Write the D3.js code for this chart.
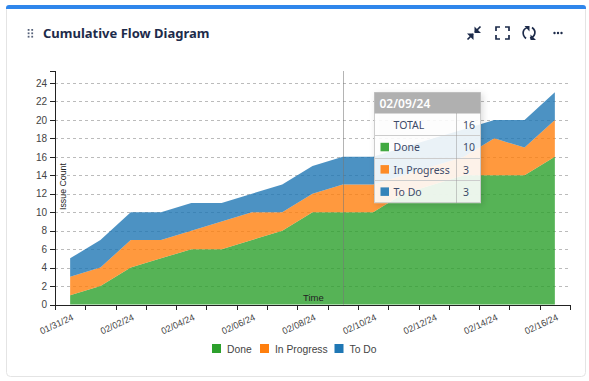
<!DOCTYPE html>
<html>
<head>
<meta charset="utf-8">
<script src="https://cdn.jsdelivr.net/npm/d3@7"></script>
<style>
    html, body { margin: 0; padding: 0; background: #fff; }
    svg { display: block; }
    .axis text { font: 10px "Liberation Sans", Arial, sans-serif; fill: #444; }
    .axis path, .axis line { stroke: #222; shape-rendering: crispEdges; }
    .ui { font-family: "Noto Sans", sans-serif; }
</style>
</head>
<body>
<svg id="chart" width="589" height="381"></svg>
<script>
// values
const dates = ["01/31/24", "02/01/24", "02/02/24", "02/03/24", "02/04/24", "02/05/24", "02/06/24", "02/07/24", "02/08/24",
    "02/09/24", "02/10/24", "02/11/24", "02/12/24", "02/13/24", "02/14/24", "02/15/24", "02/16/24"];
const done = [1, 2, 4, 5, 6, 6, 7, 8, 10, 10, 10, 12, 13, 14, 14, 14, 16];
const inProgress = [2, 2, 3, 2, 2, 3, 3, 2, 2, 3, 3, 2, 2, 2, 4, 3, 4];
const toDo = [2, 3, 3, 3, 3, 2, 2, 3, 3, 3, 3, 3, 3, 3, 2, 3, 3];
const seriesNames = ["Done", "In Progress", "To Do"];
const seriesColors = ["#2ca02c", "#ff7f0e", "#1f77b4"];
const yTicks = [0, 2, 4, 6, 8, 10, 12, 14, 16, 18, 20, 22, 24];
const hoverIndex = 9;

const svg = d3.select("#chart");
const margin = { top: 71, right: 19, bottom: 76.5, left: 55 };
const width = 589 - margin.right;
const height = 381 - margin.bottom;

// card
svg.append("rect").attr("x", 6.5).attr("y", 5.5).attr("width", 579).attr("height", 371).attr("rx", 4)
    .attr("fill", "#fff").attr("stroke", "#e4e4e4");
svg.append("path").attr("d", "M6,9V8Q6,5 9,5H583Q586,5 586,8V9Z").attr("fill", "#2f86eb");

// header
const titleColor = "#1d2b4a";
svg.append("text").attr("class", "ui").attr("x", 43).attr("y", 38)
    .attr("font-size", 13).attr("font-weight", 700).attr("fill", titleColor)
    .text("Cumulative Flow Diagram");

const handle = svg.append("g").attr("fill", "#56627a");
d3.range(6).forEach(i => {
    handle.append("rect").attr("x", 27.7 + (i % 2) * 3.6).attr("y", 29 + Math.floor(i / 2) * 3.4)
        .attr("width", 1.8).attr("height", 1.8);
});

const icons = svg.append("g").attr("fill", "none").attr("stroke", titleColor).attr("stroke-width", 1.7);
// collapse arrows
icons.append("path").attr("d", "M467.5,39.5L473,34M480.5,26.5L475,32");
icons.append("path").attr("fill", titleColor).attr("stroke", "none")
    .attr("d", "M467,33.5H473.5V40ZM481,33H474.5V26.5Z");
// fullscreen corners
icons.append("path").attr("d", "M496,31V27H500M505,27H509V31M509,35V39H505M500,39H496V35");
// refresh
icons.append("path").attr("d", "M526,38.5C521,34 523,28 528.5,27.5M532,27.5C537,31 535,37 530,38");
icons.append("path").attr("fill", titleColor).attr("stroke", "none")
    .attr("d", "M524.5,26H529.5V31.5ZM536,40H530.5V34.5Z");
// more
[554.5, 558, 561.5].forEach(cx => {
    svg.append("circle").attr("cx", cx).attr("cy", 33).attr("r", 1.2).attr("fill", titleColor);
});

// scales, ticks sit on band edges and points in the band middle
const x = d3.scaleLinear().domain([0, dates.length]).range([margin.left, width]);
const y = d3.scaleLinear().domain([0, 25.3]).range([height, margin.top]);

// grid
svg.append("g").selectAll("line")
    .data(yTicks.filter(d => d > 0))
    .join("line")
    .attr("x1", margin.left).attr("x2", width)
    .attr("y1", d => Math.round(y(d)) + 0.5).attr("y2", d => Math.round(y(d)) + 0.5)
    .attr("stroke", "#bbb").attr("stroke-dasharray", "3 3");

// stacked areas
const rows = dates.map((d, i) => ({ i, "Done": done[i], "In Progress": inProgress[i], "To Do": toDo[i] }));
const stacked = d3.stack().keys(seriesNames)(rows);
const area = d3.area()
    .x(d => x(d.data.i + 0.5))
    .y0(d => y(d[0]))
    .y1(d => y(d[1]));

svg.append("g").selectAll("path")
    .data(stacked)
    .join("path")
    .attr("d", area)
    .attr("fill", (d, i) => seriesColors[i])
    .attr("fill-opacity", 0.8);

// hover line
svg.append("line")
    .attr("x1", Math.round(x(hoverIndex + 0.5)) + 0.5).attr("x2", Math.round(x(hoverIndex + 0.5)) + 0.5)
    .attr("y1", margin.top).attr("y2", height)
    .attr("stroke", "#777").attr("stroke-opacity", 0.55);

// axes
const xAxis = svg.append("g").attr("class", "axis")
    .attr("transform", `translate(0,${height})`)
    .call(d3.axisBottom(x).tickValues(d3.range(dates.length + 1)).tickSize(5)
        .tickFormat(i => (i % 2 === 0 && i < dates.length) ? dates[i] : ""));
xAxis.selectAll("text")
    .attr("text-anchor", "end")
    .attr("y", 0).attr("dy", 0)
    .style("font-size", "9.2px")
    .attr("transform", `translate(${x(1) - x(0.5) + 3.5},15) rotate(-25)`);

const yAxis = svg.append("g").attr("class", "axis")
    .attr("transform", `translate(${margin.left},0)`)
    .call(d3.axisLeft(y).tickValues(yTicks).tickSize(5).tickFormat(d3.format("d")));
yAxis.selectAll("text").attr("x", -8);

svg.append("text").attr("transform", "translate(66,210) rotate(-90)")
    .attr("font-family", "Liberation Sans").attr("font-size", 8.8).attr("fill", "#222")
    .text("Issue Count");
svg.append("text").attr("x", 303).attr("y", 301)
    .attr("font-family", "Liberation Sans").attr("font-size", 9.5).attr("fill", "#222")
    .text("Time");

// legend
const legendX = [212, 260, 334.5];
const legend = svg.append("g").selectAll("g")
    .data(seriesNames)
    .join("g")
    .attr("transform", (d, i) => `translate(${legendX[i]},344)`);
legend.append("rect").attr("width", 9).attr("height", 9).attr("fill", (d, i) => seriesColors[i]);
legend.append("text").attr("x", 15).attr("y", 9)
    .attr("font-family", "Liberation Sans").attr("font-size", 10.3).attr("fill", "#444")
    .text(d => d);

// tooltip
const shadow = svg.append("defs").append("filter").attr("id", "tipShadow")
    .attr("x", "-10%").attr("y", "-10%").attr("width", "125%").attr("height", "125%");
shadow.append("feDropShadow").attr("dx", 2).attr("dy", 2).attr("stdDeviation", 3)
    .attr("flood-color", "#000").attr("flood-opacity", 0.15);

const tip = svg.append("g").attr("class", "ui").attr("transform", "translate(374.5,92.5)");
const tipRows = [["TOTAL", done[hoverIndex] + inProgress[hoverIndex] + toDo[hoverIndex], null]]
    .concat(seriesNames.map((n, i) => [n, [done, inProgress, toDo][i][hoverIndex], seriesColors[i]]));
const tipW = 106, headH = 21, rowH = 22.3;

tip.append("rect").attr("width", tipW).attr("height", headH + rowH * 4)
    .attr("fill", "#fff").attr("fill-opacity", 0.88).attr("stroke", "#ccc").attr("filter", "url(#tipShadow)");
tip.append("rect").attr("width", tipW).attr("height", headH).attr("fill", "#b0b0b0");
tip.append("text").attr("x", 5).attr("y", 15.5)
    .attr("font-size", 12).attr("font-weight", 600).attr("fill", "#fff")
    .text(dates[hoverIndex]);

tipRows.forEach((r, i) => {
    const top = headH + rowH * i;
    if (i > 0) {
        tip.append("line").attr("x1", 0).attr("x2", tipW).attr("y1", Math.round(top)).attr("y2", Math.round(top))
            .attr("stroke", "#ccc");
    }
    if (r[2]) {
        tip.append("rect").attr("x", 6).attr("y", top + 7).attr("width", 8.5).attr("height", 8.5)
            .attr("fill", r[2]).attr("fill-opacity", 0.9);
    }
    tip.append("text").attr("x", 19).attr("y", top + 15.5)
        .attr("font-size", 10.5).attr("fill", "#3d4b69").text(r[0]);
    tip.append("text").attr("x", 88.5).attr("y", top + 15.5)
        .attr("font-size", 10.5).attr("fill", "#3d4b69").text(r[1]);
});
tip.append("line").attr("x1", 82).attr("x2", 82).attr("y1", headH).attr("y2", headH + rowH * 4)
    .attr("stroke", "#999").attr("stroke-dasharray", "1 1");
</script>
</body>
</html>
